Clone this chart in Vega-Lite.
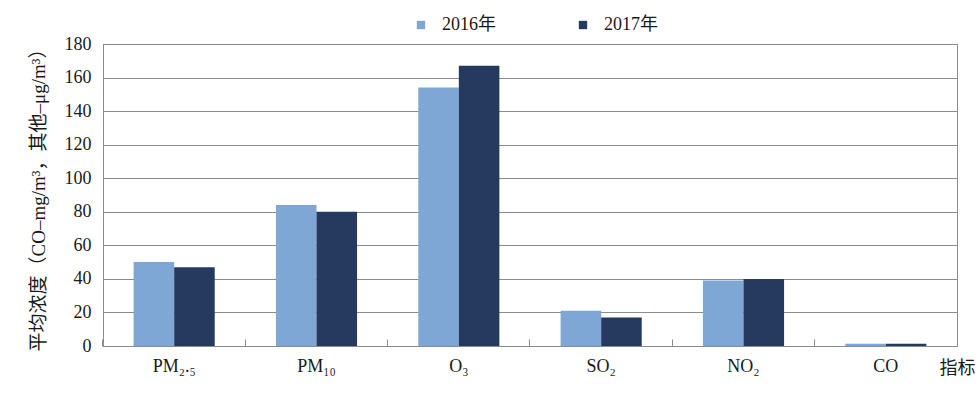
{
  "$schema": "https://vega.github.io/schema/vega-lite/v6.json",
  "autosize": {"type": "none"},
  "width": 854,
  "height": 302,
  "padding": {"left": 103, "top": 44, "right": 23, "bottom": 47},
  "background": "white",
  "config": {
    "font": "'Liberation Serif', 'Noto Sans CJK SC'",
    "view": {"stroke": "#8c8c8c", "strokeWidth": 1},
    "axis": {"labelFont": "'Liberation Serif', 'Noto Sans CJK SC'", "titleFont": "'Liberation Serif', 'Noto Sans CJK SC'", "labelColor": "#1a1a1a", "titleColor": "#1a1a1a", "domainColor": "#8c8c8c", "gridColor": "#8c8c8c", "tickColor": "#8c8c8c"},
    "legend": {"labelFont": "'Liberation Serif', 'Noto Sans CJK SC'"}
  },
  "data": {
    "values": [
      {"indicator": "PM₂.₅", "year": "2016年", "value": 50},
      {"indicator": "PM₂.₅", "year": "2017年", "value": 47},
      {"indicator": "PM₁₀", "year": "2016年", "value": 84},
      {"indicator": "PM₁₀", "year": "2017年", "value": 80},
      {"indicator": "O₃", "year": "2016年", "value": 154},
      {"indicator": "O₃", "year": "2017年", "value": 167},
      {"indicator": "SO₂", "year": "2016年", "value": 21},
      {"indicator": "SO₂", "year": "2017年", "value": 17},
      {"indicator": "NO₂", "year": "2016年", "value": 39},
      {"indicator": "NO₂", "year": "2017年", "value": 40},
      {"indicator": "CO", "year": "2016年", "value": 1.3},
      {"indicator": "CO", "year": "2017年", "value": 1.3}
    ]
  },
  "mark": {"type": "bar"},
  "encoding": {
    "x": {
      "field": "indicator", "type": "nominal", "sort": null,
      "scale": {"paddingInner": 0.43, "paddingOuter": 0.215},
      "axis": {
        "title": "指标", "titleFontSize": 18, "titleFontWeight": "normal",
        "titleAnchor": "end", "titleAlign": "right", "titleX": 872, "titleY": 22, "titleBaseline": "middle",
        "labelAngle": 0, "labelFontSize": 18, "labelPadding": 18,
        "bandPosition": -0.378, "tickSize": -7, "grid": false, "domainWidth": 1
      }
    },
    "xOffset": {"field": "year", "type": "nominal", "scale": {"paddingInner": 0, "paddingOuter": 0}},
    "y": {
      "field": "value", "type": "quantitative",
      "scale": {"domain": [0, 180]},
      "axis": {
        "title": "平均浓度（CO–mg/m³，其他–μg/m³）", "titleFontSize": 19, "titleFontWeight": "normal", "titlePadding": 16,
        "values": [0, 20, 40, 60, 80, 100, 120, 140, 160, 180],
        "labelFontSize": 18, "labelPadding": 12, "ticks": false, "grid": true, "gridWidth": 1
      }
    },
    "color": {
      "field": "year", "type": "nominal",
      "scale": {"domain": ["2016年", "2017年"], "range": ["#7fa7d5", "#263a5f"]},
      "legend": {
        "title": null, "orient": "none", "direction": "horizontal",
        "legendX": 309, "legendY": -28,
        "symbolType": "square", "symbolSize": 70, "symbolStrokeWidth": 0,
        "labelFontSize": 18, "labelColor": "#1a1a1a", "labelOffset": 12, "columnPadding": 78
      }
    }
  }
}
